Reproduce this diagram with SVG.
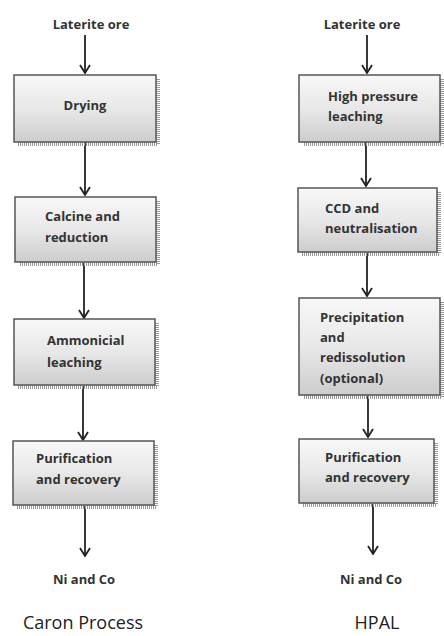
<svg xmlns="http://www.w3.org/2000/svg" width="444" height="636" viewBox="0 0 444 636">
<defs>
<linearGradient id="g" x1="0" y1="0" x2="0" y2="1">
<stop offset="0" stop-color="#f8f8f8"/>
<stop offset="0.5" stop-color="#e8e8e8"/>
<stop offset="1" stop-color="#cdcdcd"/>
</linearGradient>
<marker id="ah" viewBox="0 0 10 12" refX="9" refY="6" markerWidth="10" markerHeight="12" markerUnits="userSpaceOnUse" orient="auto">
<path d="M1,1 L9,6 L1,11" fill="none" stroke="#222" stroke-width="1.8"/>
</marker>
</defs>
<style>
.box{fill:url(#g);stroke:#555;stroke-width:1.5}
.sh{fill:none;stroke:#9a9a9a;stroke-width:4;stroke-dasharray:1 1}
.t{font-family:"Open Sans","Liberation Sans",sans-serif;font-weight:bold;font-size:13px;fill:#333}
.c{text-anchor:middle}
.title{font-family:"Open Sans","Liberation Sans",sans-serif;font-size:18px;fill:#222;text-anchor:middle}
.con{stroke:#222;stroke-width:1.8;fill:none;marker-end:url(#ah)}
</style>
<rect width="444" height="636" fill="#fff"/>
<g id="connectors">
<line class="con" x1="85" y1="35" x2="85" y2="73"/>
<line class="con" x1="85" y1="142" x2="85" y2="195"/>
<line class="con" x1="84" y1="263" x2="84" y2="318"/>
<line class="con" x1="83" y1="386" x2="83" y2="440"/>
<line class="con" x1="85" y1="506" x2="85" y2="556"/>
<line class="con" x1="367" y1="35" x2="367" y2="73"/>
<line class="con" x1="366" y1="142" x2="366" y2="186"/>
<line class="con" x1="367" y1="253" x2="367" y2="296"/>
<line class="con" x1="368" y1="396" x2="368" y2="437"/>
<line class="con" x1="373" y1="504" x2="373" y2="554"/>
</g>
<g id="lat1"><text class="t c" x="91" y="29">Laterite ore</text></g>
<g id="drying">
<path class="sh" d="M158,79 V144 H18"/>
<rect class="box" x="14" y="75" width="142" height="67"/>
<text class="t c" x="85" y="110">Drying</text>
</g>
<g id="calcine">
<path class="sh" d="M158,201 V264 H19"/>
<rect class="box" x="15" y="197" width="141" height="65"/>
<text class="t" x="45" y="221">Calcine and</text>
<text class="t" x="45" y="242">reduction</text>
</g>
<g id="ammon">
<path class="sh" d="M157,323 V387 H18"/>
<rect class="box" x="14" y="319" width="141" height="66"/>
<text class="t" x="47" y="345">Ammonicial</text>
<text class="t" x="47" y="367">leaching</text>
</g>
<g id="purif1">
<path class="sh" d="M156,445 V507 H17"/>
<rect class="box" x="13" y="441" width="141" height="64"/>
<text class="t" x="36" y="463">Purification</text>
<text class="t" x="36" y="484">and recovery</text>
</g>
<g id="ni1"><text class="t c" x="84" y="584">Ni and Co</text></g>
<g id="caron"><text class="title" x="83" y="629">Caron Process</text></g>

<g id="lat2"><text class="t c" x="362" y="29">Laterite ore</text></g>
<g id="hpl">
<path class="sh" d="M442,79 V144 H303"/>
<rect class="box" x="299" y="75" width="141" height="67"/>
<text class="t" x="328" y="101">High pressure</text>
<text class="t" x="328" y="121">leaching</text>
</g>
<g id="ccd">
<path class="sh" d="M439,192 V254 H302"/>
<rect class="box" x="298" y="188" width="139" height="64"/>
<text class="t" x="325" y="213">CCD and</text>
<text class="t" x="325" y="233">neutralisation</text>
</g>
<g id="precip">
<path class="sh" d="M442,302 V397 H303"/>
<rect class="box" x="299" y="298" width="141" height="97"/>
<text class="t" x="320" y="322">Precipitation</text>
<text class="t" x="320" y="342">and</text>
<text class="t" x="320" y="362">redissolution</text>
<text class="t" x="320" y="383">(optional)</text>
</g>
<g id="purif2">
<path class="sh" d="M436,443 V505 H303"/>
<rect class="box" x="299" y="439" width="135" height="64"/>
<text class="t" x="325" y="462">Purification</text>
<text class="t" x="325" y="482">and recovery</text>
</g>
<g id="ni2"><text class="t c" x="371" y="584">Ni and Co</text></g>
<g id="hpal"><text class="title" x="377" y="629">HPAL</text></g>
</svg>
